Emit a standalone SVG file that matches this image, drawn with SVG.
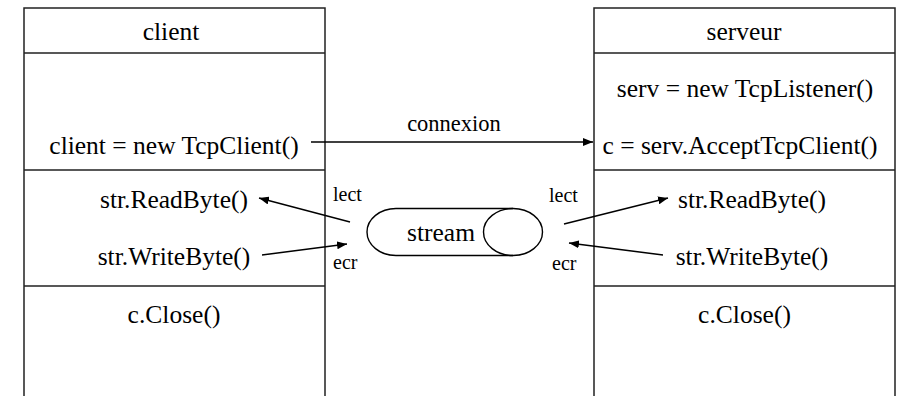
<svg xmlns="http://www.w3.org/2000/svg" width="897" height="396" viewBox="0 0 897 396">
<defs>
<style>
.box{fill:none;stroke:#222;stroke-width:1.5}
.t{font-family:"Liberation Serif","Times New Roman",serif;font-size:25.5px;fill:#000;text-anchor:middle}
.s{font-family:"Liberation Serif","Times New Roman",serif;font-size:20px;fill:#000;text-anchor:start}
.c{font-family:"Liberation Serif","Times New Roman",serif;font-size:22.5px;fill:#000;text-anchor:middle}
.ln{fill:none;stroke:#000;stroke-width:1.4}
</style>
<marker id="ah" viewBox="0 0 10 8" refX="10" refY="4" markerWidth="10" markerHeight="8" markerUnits="userSpaceOnUse" orient="auto">
<path d="M0,0 L10,4 L0,8 Z" fill="#000"/>
</marker>
</defs>
<rect width="897" height="396" fill="#fff"/>
<g id="client">
<path class="box" d="M24,396 V8 H325 V396 M24,53 H325 M24,170 H325 M24,286 H325"/>
<text class="t" x="171" y="40">client</text>
<text class="t" x="174" y="153.5">client = new TcpClient()</text>
<text class="t" x="174" y="208">str.ReadByte()</text>
<text class="t" x="174" y="265">str.WriteByte()</text>
<text class="t" x="174" y="323">c.Close()</text>
</g>
<g id="serveur">
<path class="box" d="M594,396 V8 H895 V396 M594,53 H895 M594,170 H895 M594,286 H895"/>
<text class="t" x="744" y="40">serveur</text>
<text class="t" x="745" y="97">serv = new TcpListener()</text>
<text class="t" x="740" y="153.5">c = serv.AcceptTcpClient()</text>
<text class="t" x="752" y="208">str.ReadByte()</text>
<text class="t" x="752" y="265">str.WriteByte()</text>
<text class="t" x="744.5" y="323">c.Close()</text>
</g>
<g id="stream">
<path class="ln" d="M513,208.5 H396 A29,23.5 0 0 0 396,255.5 H513"/>
<ellipse class="ln" cx="513" cy="232" rx="29.5" ry="23.5"/>
<text class="t" x="441" y="241">stream</text>
</g>
<g id="connectors">
<line class="ln" x1="311" y1="142" x2="593" y2="142" marker-end="url(#ah)"/>
<text class="c" x="454" y="131">connexion</text>
<line class="ln" x1="350" y1="222" x2="259" y2="198" marker-end="url(#ah)"/>
<line class="ln" x1="262" y1="255" x2="347" y2="244" marker-end="url(#ah)"/>
<line class="ln" x1="564" y1="224" x2="668" y2="198" marker-end="url(#ah)"/>
<line class="ln" x1="663" y1="255" x2="569" y2="243" marker-end="url(#ah)"/>
<text class="s" x="333" y="201">lect</text>
<text class="s" x="333" y="269">ecr</text>
<text class="s" x="549" y="202">lect</text>
<text class="s" x="552" y="270">ecr</text>
</g>
</svg>
